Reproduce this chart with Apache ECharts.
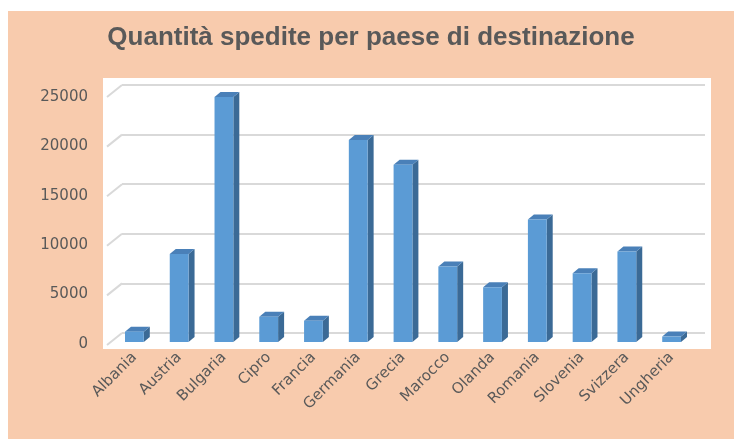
<!DOCTYPE html>
<html>
<head>
<meta charset="utf-8">
<script src="https://cdn.jsdelivr.net/npm/echarts@6/dist/echarts.min.js"></script>
<style>
html,body{margin:0;padding:0;background:#fff;}
#chart{position:absolute;left:8px;top:11px;width:726px;height:428px;}
</style>
</head>
<body>
<div id="chart"></div>
<script>
const categories = ['Albania','Austria','Bulgaria','Cipro','Francia','Germania','Grecia','Marocco','Olanda','Romania','Slovenia','Svizzera','Ungheria'];
const quantities = [1050, 8900, 24800, 2550, 2150, 20450, 17950, 7650, 5550, 12400, 6950, 9150, 550];
const yTicks = [0, 5000, 10000, 15000, 20000, 25000];
const titleText = 'Quantità spedite per paese di destinazione';

const OX = 8, OY = 11; // container offset
const chart = echarts.init(document.getElementById('chart'), null, {renderer:'canvas'});
const gray = '#595959';
const DX = 6, DY = 5; // bar depth
const WALL_DX = 15, WALL_DY = 12;

const option = {
  backgroundColor: '#F8CBAD',
  animation: false,
  title: {
    text: titleText,
    left: 'center',
    top: 9,
    textStyle: {fontFamily: 'Liberation Sans', fontWeight: 'bold', fontSize: 26, color: gray}
  },
  grid: [
    {left: 103-OX, right: 23, top: 78-OY, bottom: 90, show: true, backgroundColor: '#fff', borderWidth: 0},
    {left: 122-OX, right: 29, top: 85-OY, bottom: 106},
    {left: 112-OX, right: 40, top: 95-OY, bottom: 97},
    {left: 107-OX, right: 44, top: 97-OY, bottom: 95}
  ],
  xAxis: [
    {gridIndex: 0, type: 'value', show: false},
    {gridIndex: 1, type: 'value', min: 0, max: 1, show: false},
    {gridIndex: 2, type: 'category', data: categories,
      axisLine: {show: false}, axisTick: {show: false},
      axisLabel: {rotate: 45, margin: 13, interval: 0, fontFamily: 'DejaVu Sans', fontSize: 15, color: gray}},
    {gridIndex: 3, type: 'value', show: false}
  ],
  yAxis: [
    {gridIndex: 0, type: 'value', show: false},
    {gridIndex: 1, type: 'value', min: 0, max: 25000, interval: 5000,
      axisLine: {show: false}, axisTick: {show: false}, axisLabel: {show: false},
      splitLine: {show: true, lineStyle: {color: '#D9D9D9', width: 2}}},
    {gridIndex: 2, type: 'value', min: 0, max: 25000, interval: 5000, show: false},
    {gridIndex: 3, type: 'value', min: 0, max: 25000, interval: 5000,
      axisLine: {show: false}, axisTick: {show: false}, splitLine: {show: false},
      axisLabel: {margin: 19, fontFamily: 'DejaVu Sans', fontSize: 15, color: gray,
        formatter: function (v) { return String(v); }}}
  ],
  series: [
    {
      type: 'custom', xAxisIndex: 1, yAxisIndex: 1, silent: true,
      data: yTicks.map(v => [0, v]),
      renderItem: function (params, api) {
        const cs = params.coordSys;
        const p = api.coord([0, api.value(1)]);
        return {
          type: 'line',
          shape: {x1: cs.x - WALL_DX, y1: p[1] + WALL_DY, x2: cs.x, y2: p[1]},
          style: {stroke: '#D9D9D9', lineWidth: 2}
        };
      }
    },
    {
      type: 'custom', xAxisIndex: 2, yAxisIndex: 2, silent: true,
      data: quantities.map((v, i) => [i, v]),
      renderItem: function (params, api) {
        const i = api.value(0), v = api.value(1);
        const top = api.coord([i, v]);
        const base = api.coord([i, 0]);
        const w = api.size([1, 0])[0] * 0.42;
        const x0 = top[0] - w / 2, x1 = top[0] + w / 2;
        const yt = top[1], yb = base[1];
        return {
          type: 'group',
          children: [
            {type: 'polygon', shape: {points: [[x1, yt], [x1 + DX, yt - DY], [x1 + DX, yb - DY], [x1, yb]]},
              style: {fill: '#3B6A96'}},
            {type: 'polygon', shape: {points: [[x0, yt], [x0 + DX, yt - DY], [x1 + DX, yt - DY], [x1, yt]]},
              style: {fill: '#4A80B8'}},
            {type: 'rect', shape: {x: x0, y: yt, width: w, height: yb - yt},
              style: {fill: '#5B9BD5'}}
          ]
        };
      }
    }
  ]
};
chart.setOption(option);
</script>
</body>
</html>
